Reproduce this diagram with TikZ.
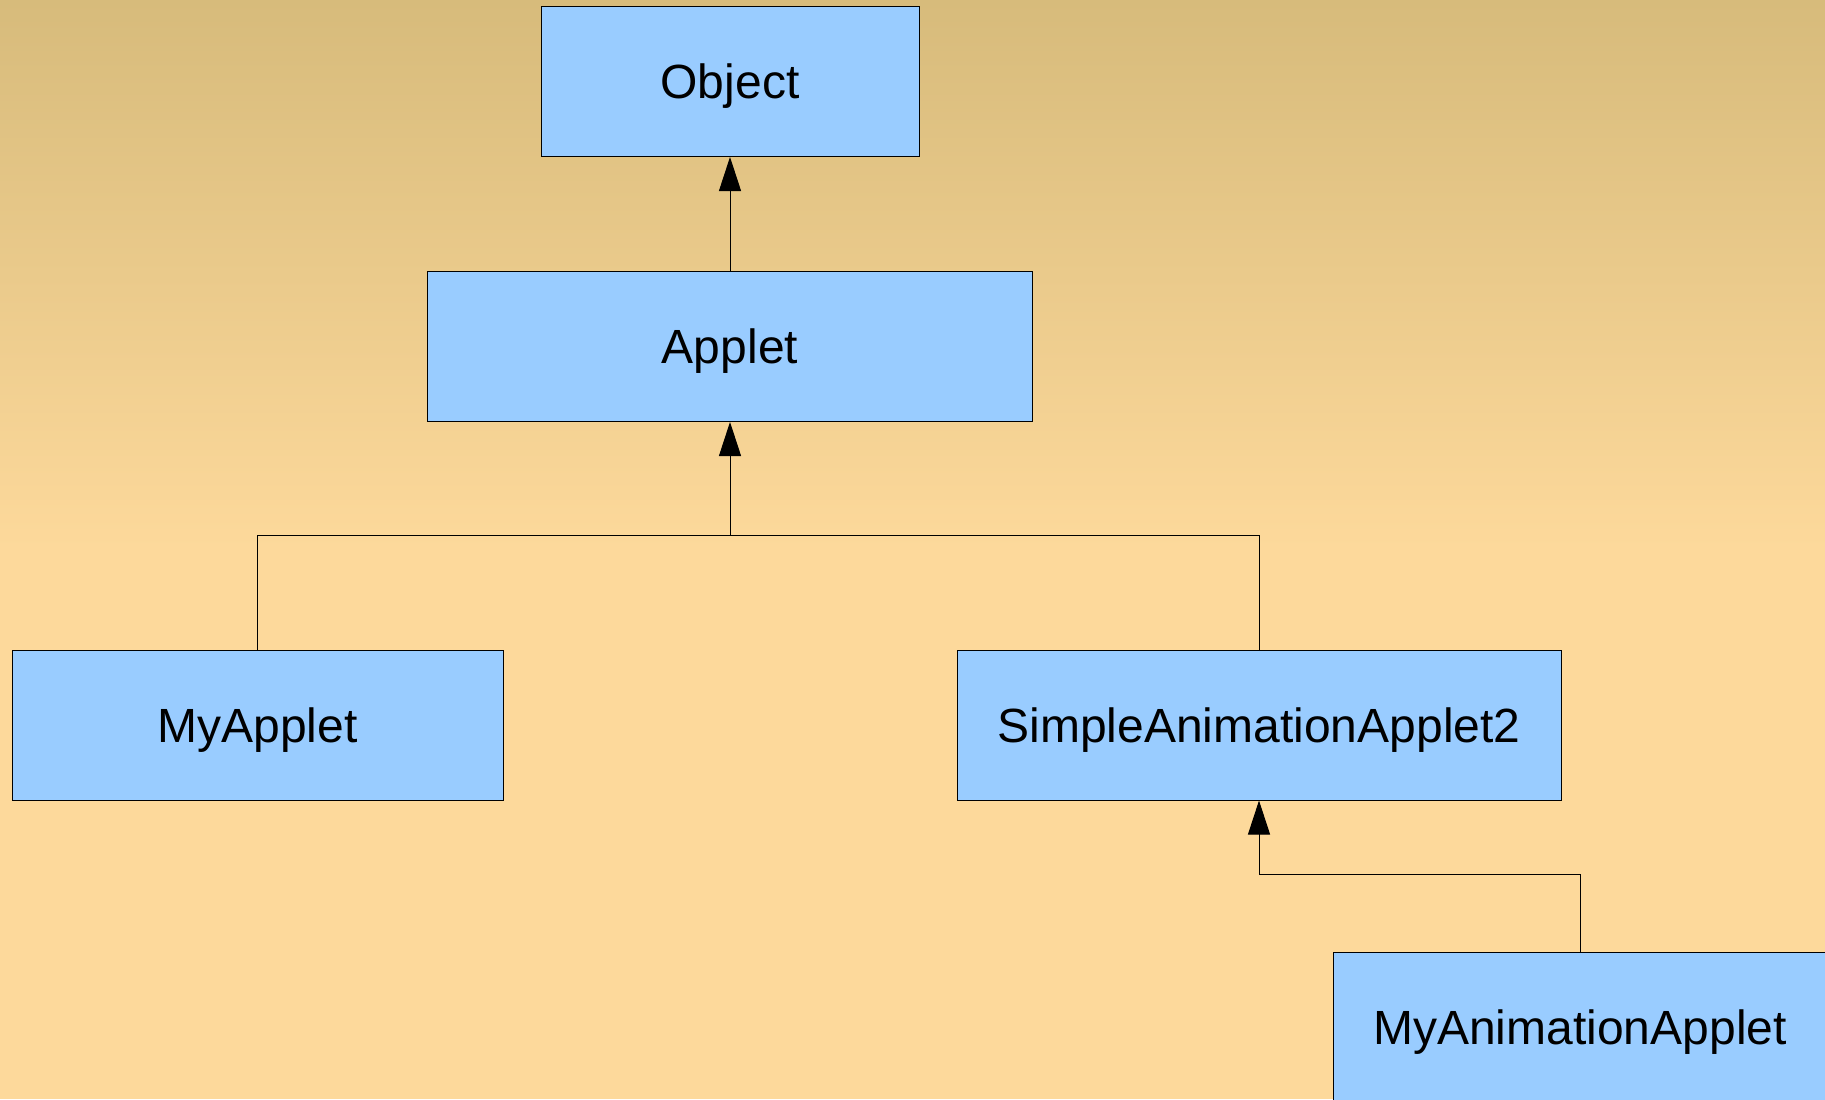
\documentclass[tikz,border=0pt]{standalone}
\usepackage{xcolor}
\usepackage{fontspec}
\setmainfont{Liberation Sans}
\usepackage{tikz}
\usetikzlibrary{shapes,arrows,arrows.meta,positioning,calc}

\definecolor{bgtop}{RGB}{215,187,123}
\definecolor{bgbottom}{RGB}{253,217,155}
\definecolor{classblue}{RGB}{153,204,255}

\begin{document}
\begin{tikzpicture}[x=0.5pt,y=-0.5pt]
	\tikzset{font=\fontsize{24}{28}\selectfont}

	\tikzset{class/.style = {shape=rectangle,draw=black,line width=0.5pt,fill=classblue,
			minimum height=75pt,inner sep=0pt,text height=17.2pt,text depth=0pt}}

	\tikzset{inherit/.style = {draw=black,line width=0.5pt,-{Triangle[length=17pt,width=11pt]}}}

	\tikzset{link/.style = {draw=black,line width=0.5pt}}

	% background
	\useasboundingbox (0,0) rectangle (1825,1099);
	\clip (0,0) rectangle (1825,1099);
	\fill[top color=bgtop,bottom color=bgbottom] (0,0) rectangle (1825,550);
	\fill[bgbottom] (0,549) rectangle (1825,1099);

	% classes
	\node[class,minimum width=189pt] (object) at (730,81.5) {Object};

	\node[class,minimum width=302.5pt] (applet) at (730,346.5) {Applet};

	\node[class,minimum width=245.5pt] (myapplet) at (257.5,725) {MyApplet};

	\node[class,minimum width=302pt] (simple) at (1259,725) {SimpleAnimationApplet2};

	\node[class,minimum width=247pt] (myanim) at (1580,1027) {MyAnimationApplet};

	\coordinate (fork) at (730,535);

	% edges
	\draw[inherit] (applet) -- (object);
	\draw[link] (myapplet.north) |- (fork) -| (simple.north);
	\draw[inherit] (fork) -- (applet.south);
	\draw[inherit] (myanim.north) -- ++(0,-77) -| (simple.south);
\end{tikzpicture}
\end{document}
